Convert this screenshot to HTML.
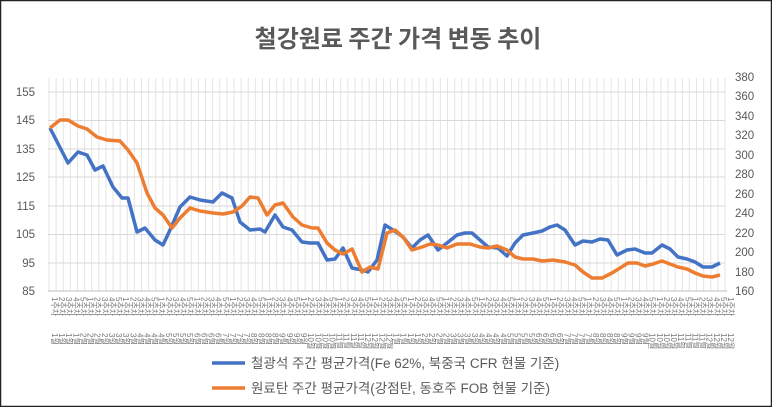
<!DOCTYPE html>
<html><head><meta charset="utf-8"><style>
html,body{margin:0;padding:0;background:#fff;}
svg{display:block;font-family:"Liberation Sans","Noto Sans CJK KR",sans-serif;}
</style></head><body>
<svg id="s" width="772" height="407" viewBox="0 0 772 407" xmlns="http://www.w3.org/2000/svg">
<rect x="0.5" y="0.5" width="771" height="406" fill="#fff" stroke="#222" stroke-width="1.5"/>
<text x="398" y="47" text-anchor="middle" font-size="24" font-weight="bold" fill="#595959" font-family="'Noto Sans CJK KR',sans-serif">철강원료 주간 가격 변동 추이</text>
<g id="vg" stroke="#e4e4e4" stroke-width="1"></g>
<g stroke="#d9d9d9" stroke-width="1">
<line x1="48" x2="725" y1="92" y2="92"/><line x1="48" x2="725" y1="120.5" y2="120.5"/>
<line x1="48" x2="725" y1="149" y2="149"/><line x1="48" x2="725" y1="177" y2="177"/>
<line x1="48" x2="725" y1="206" y2="206"/><line x1="48" x2="725" y1="234.5" y2="234.5"/>
<line x1="48" x2="725" y1="263" y2="263"/>
</g>
<line x1="48" x2="727" y1="291" y2="291" stroke="#bfbfbf"/>
<g font-size="11.5" fill="#595959" text-anchor="end">
<text x="35" y="96">155</text><text x="35" y="124">145</text><text x="35" y="153">135</text>
<text x="35" y="181">125</text><text x="35" y="210">115</text><text x="35" y="238">105</text>
<text x="35" y="267">95</text><text x="35" y="295">85</text>
</g>
<g font-size="11.5" fill="#595959">
<text x="735" y="81">380</text><text x="735" y="100">360</text><text x="735" y="120">340</text>
<text x="735" y="139">320</text><text x="735" y="159">300</text><text x="735" y="178">280</text>
<text x="735" y="198">260</text><text x="735" y="217">240</text><text x="735" y="237">220</text>
<text x="735" y="256">200</text><text x="735" y="276">180</text><text x="735" y="295">160</text>
</g>
<g id="xl" font-size="8" fill="#777"></g>
<polyline fill="none" stroke="#4472c4" stroke-width="3.5" stroke-linejoin="round" points="50,128 68,163 78,152 87,155 95,170 103,166 113,187 122,198 128,198 137,232 145,228 155,240 163,245 170,230 180,207 190,197 200,200 213,202 222,193 232,198 240,222 250,230 260,229 265,232 275,215 283,227 292,230 302,242 310,243 318,243 327,260 335,259 343,248 352,268 362,270 368,272 377,260 385,225 393,230 403,237 412,248 420,240 428,235 438,250 447,243 457,235 465,233 472,233 480,240 488,247 498,248 507,256 515,243 523,235 533,233 542,231 550,227 557,225 565,230 575,245 583,241 592,242 600,239 608,240 617,255 627,250 635,249 645,253 652,253 662,245 670,249 678,257 687,259 695,262 703,267 712,267 720,263"/>
<polyline fill="none" stroke="#ed7d31" stroke-width="3.5" stroke-linejoin="round" points="50,128 60,120 68,120 78,126 87,129 97,137 107,140 120,141 128,150 137,163 147,193 155,208 163,215 172,228 180,218 190,208 200,211 213,213 223,214 233,212 242,206 250,197 258,198 267,215 275,205 283,203 293,217 302,225 312,228 318,228 327,243 335,250 343,254 352,249 362,272 370,267 378,269 387,233 395,230 403,237 412,250 422,247 430,244 438,245 447,248 457,244 470,244 480,247 488,248 497,246 507,250 515,257 523,259 533,259 542,261 553,260 565,262 575,265 583,272 592,278 602,278 612,273 620,268 628,263 637,263 645,266 653,264 662,261 670,264 678,267 687,269 695,273 703,276 712,277 720,275"/>
<line x1="212" x2="245" y1="363" y2="363" stroke="#4472c4" stroke-width="3.5"/>
<line x1="212" x2="245" y1="388" y2="388" stroke="#ed7d31" stroke-width="3.5"/>
<g font-size="13.5" fill="#595959">
<text x="251" y="368">철광석 주간 평균가격(Fe 62%, 북중국 CFR 현물 기준)</text>
<text x="251" y="393">원료탄 주간 평균가격(강점탄, 동호주 FOB 현물 기준)</text>
</g>
</svg>
<script>
var ns="http://www.w3.org/2000/svg",vg=document.getElementById("vg"),xl=document.getElementById("xl");
var n=96,x0=49,dx=(725-49)/(n-1);
for(var i=0;i<n;i++){var x=x0+i*dx;
var l=document.createElementNS(ns,"line");l.setAttribute("x1",x);l.setAttribute("x2",x);l.setAttribute("y1",78);l.setAttribute("y2",291);vg.appendChild(l);
var t=document.createElementNS(ns,"text");t.setAttribute("transform","translate("+(x+3)+",297) rotate(90)");
t.textContent=(i%5+1)+"주차";xl.appendChild(t);
var t2=document.createElementNS(ns,"text");t2.setAttribute("transform","translate("+(x+3)+",333) rotate(90)");
t2.textContent=(Math.floor(i/4)%12+1)+"월";xl.appendChild(t2);}
</script>
</body></html>
